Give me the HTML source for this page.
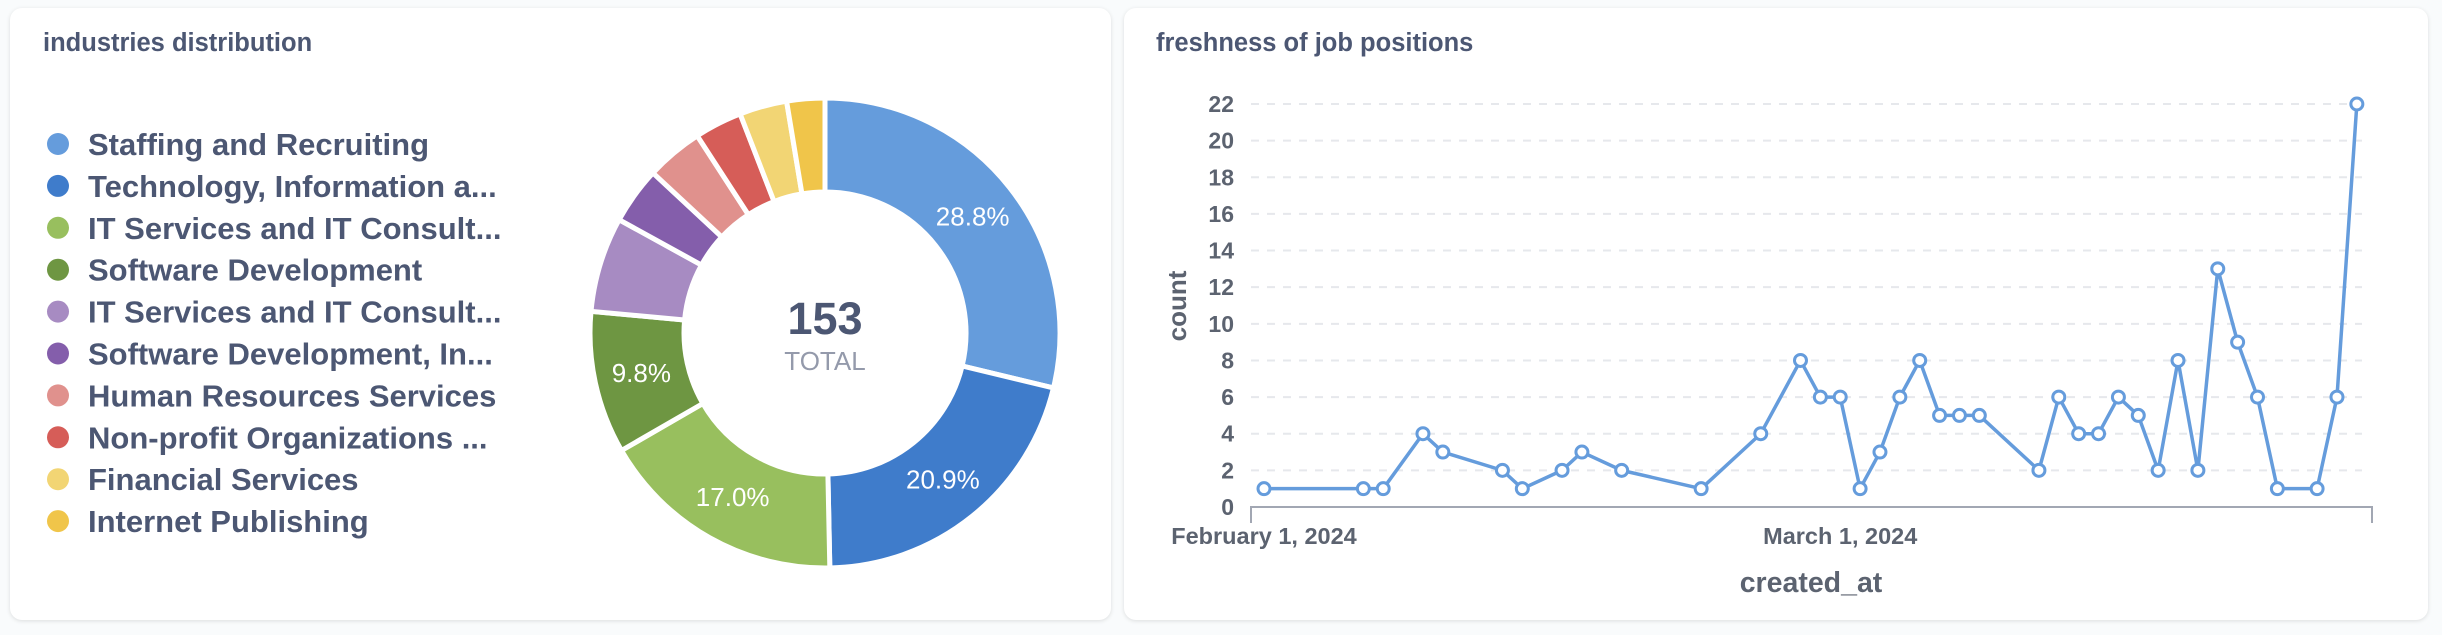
<!DOCTYPE html>
<html><head><meta charset="utf-8"><style>
html,body{margin:0;padding:0;background:#f9fbfc;width:2442px;height:635px;overflow:hidden;font-family:"Liberation Sans",sans-serif;}
.card{position:absolute;background:#fff;border-radius:12px;box-shadow:0 1px 4px rgba(0,0,0,0.12);}
</style></head><body>
<div class="card" style="left:10px;top:8px;width:1101px;height:612px;"></div>
<div class="card" style="left:1124px;top:8px;width:1304px;height:612px;"></div>
<svg id="svg" width="2442" height="635" style="position:absolute;left:0;top:0">
<text x="43" y="51" font-size="25.5" font-weight="bold" fill="#4c5773">industries distribution</text>
<text x="1156" y="51" font-size="25.5" font-weight="bold" fill="#4c5773">freshness of job positions</text>
<g id="legend"></g><g id="donut"></g><g id="line"></g>
</svg>
<script>
const categories=["Staffing and Recruiting","Technology, Information a...","IT Services and IT Consult...","Software Development","IT Services and IT Consult...","Software Development, In...","Human Resources Services","Non-profit Organizations ...","Financial Services","Internet Publishing"];
const counts=[44,32,26,15,10,6,6,5,5,4];
const colors=["#659cdc","#3f7ccb","#98bf5e","#6e9642","#a78bc2","#845eab","#e0918d","#d65d58","#f2d574","#f0c54a"];
const dayOffsets=[0,5,6,8,9,12,13,15,16,18,22,25,27,28,29,30,31,32,33,34,35,36,39,40,41,42,43,44,45,46,47,48,49,50,51,53,54,55];
const values=[1,1,1,4,3,2,1,2,3,2,1,4,8,6,6,1,3,6,8,5,5,5,2,6,4,4,6,5,2,8,2,13,9,6,1,1,6,22];
const yTicks=[0,2,4,6,8,10,12,14,16,18,20,22];
const xTickDays=[0,29];
const xTickLabels=["February 1, 2024","March 1, 2024"];
const NS="http://www.w3.org/2000/svg";
function mk(tag,attrs,parent,txt){const e=document.createElementNS(NS,tag);for(const k in attrs)e.setAttribute(k,attrs[k]);if(txt!==undefined)e.textContent=txt;parent.appendChild(e);return e;}
const lg=document.getElementById('legend');
categories.forEach((c,i)=>{const y=144+i*41.9;
const d=mk('circle',{cx:58,cy:y,r:11,fill:colors[i]},lg);


const t=mk('text',{x:88,y:y+11,'font-size':31,'font-weight':'bold',fill:'#4c5773'},lg,c);

});
const dg=document.getElementById('donut');const cx=825,cy=333,R=235,r=141;
const total=counts.reduce((a,b)=>a+b,0);let a0=0;
function pt(rad,a){return [cx+rad*Math.sin(a),cy-rad*Math.cos(a)];}
counts.forEach((v,i)=>{const a1=a0+v/total*2*Math.PI;const la=(a1-a0)>Math.PI?1:0;
const p1=pt(R,a0),p2=pt(R,a1),p3=pt(r,a1),p4=pt(r,a0);
const p=mk('path',{d:`M${p1}A${R},${R} 0 ${la} 1 ${p2}L${p3}A${r},${r} 0 ${la} 0 ${p4}Z`,fill:colors[i],stroke:'#fff','stroke-width':5},dg);


const pct=v/total*100;
if(pct>=9){const m=pt((R+r)/2,(a0+a1)/2);const t=mk('text',{x:m[0],y:m[1]+9,'text-anchor':'middle','font-size':26,fill:'#fff'},dg,pct.toFixed(1)+'%');

}
a0=a1;});
const tt=mk('text',{x:cx,y:334,'text-anchor':'middle','font-size':45,'font-weight':'bold',fill:'#4c5773'},dg,String(total));


const tl=mk('text',{x:cx,y:370,'text-anchor':'middle','font-size':26,fill:'#949aab'},dg,'TOTAL');


const lgp=document.getElementById('line');
const xS=d=>1264+d*19.87, yS=v=>507-v*(403/22);
yTicks.forEach(v=>{if(v>0){const g=mk('line',{x1:1251,x2:2362,y1:yS(v),y2:yS(v),stroke:'#e6e8ec','stroke-width':2,'stroke-dasharray':'8,8'},lgp);

}
const t=mk('text',{x:1234,y:yS(v)+8,'text-anchor':'end','font-size':23,'font-weight':'bold',fill:'#5c6370'},lgp,String(v));

});
const ax=mk('path',{d:'M1251,523V507H2372V523',fill:'none',stroke:'#a2a7b3','stroke-width':2},lgp);


xTickDays.forEach((d,i)=>{const t=mk('text',{x:xS(d),y:544,'text-anchor':'middle','font-size':23.5,'font-weight':'bold',fill:'#5c6370'},lgp,xTickLabels[i]);

});
const xt=mk('text',{x:1811,y:592,'text-anchor':'middle','font-size':28.5,'font-weight':'bold',fill:'#5c6370'},lgp,'created_at');


const yt=mk('text',{x:1186,y:306,'text-anchor':'middle','font-size':26,'font-weight':'bold',fill:'#5c6370',transform:'rotate(-90 1186 306)'},lgp,'count');


const pl=mk('polyline',{points:dayOffsets.map((d,i)=>xS(d)+','+yS(values[i])).join(' '),fill:'none',stroke:'#659cdc','stroke-width':3.5,'stroke-linejoin':'round'},lgp);


dayOffsets.forEach((d,i)=>{const c=mk('circle',{cx:xS(d),cy:yS(values[i]),r:6,fill:'#fff',stroke:'#659cdc','stroke-width':3},lgp);

});
</script>
</body></html>
